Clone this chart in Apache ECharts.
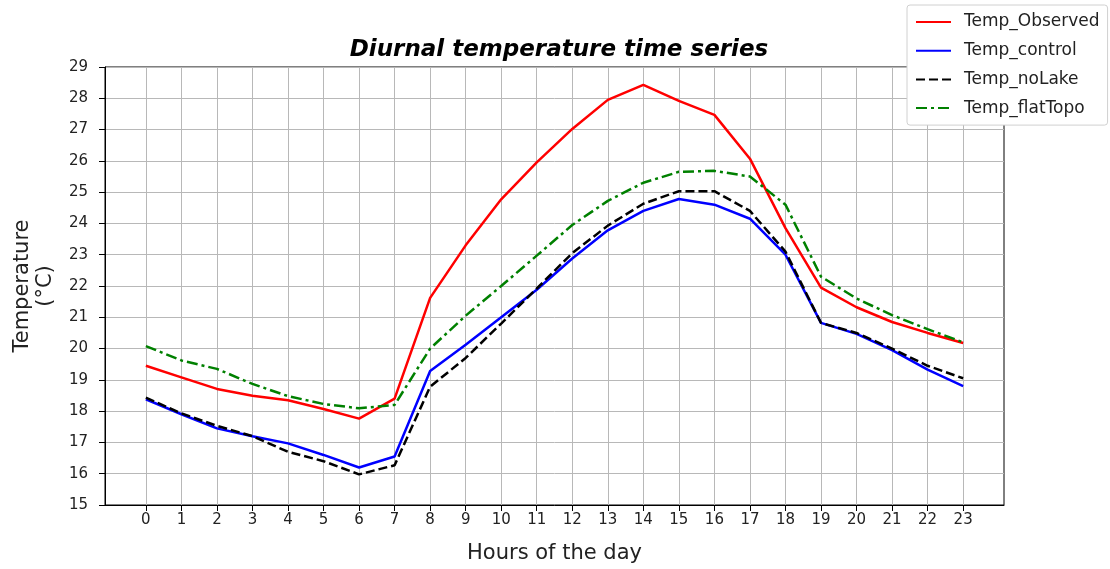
<!DOCTYPE html>
<html><head><meta charset="utf-8">
<script src="https://cdn.jsdelivr.net/npm/echarts@6/dist/echarts.min.js"></script>
<style>html,body{margin:0;padding:0;background:#fff}#c{width:1110px;height:569px}</style>
</head><body><div id="c"></div>
<script>
const hours = [0,1,2,3,4,5,6,7,8,9,10,11,12,13,14,15,16,17,18,19,20,21,22,23];
const yTicks = [15,16,17,18,19,20,21,22,23,24,25,26,27,28,29];
const tempObserved = [19.45,19.08,18.71,18.49,18.35,18.07,17.76,18.4,21.62,23.3,24.77,25.95,27.02,27.95,28.43,27.92,27.47,26.07,23.85,21.95,21.32,20.85,20.5,20.18];
const tempControl  = [18.38,17.9,17.45,17.2,16.97,16.6,16.2,16.55,19.28,20.12,21.0,21.88,22.88,23.78,24.4,24.78,24.6,24.15,23.0,20.82,20.47,19.95,19.33,18.8];
const tempNoLake   = [18.43,17.93,17.53,17.2,16.7,16.4,15.98,16.27,18.78,19.7,20.8,21.92,23.05,23.93,24.63,25.03,25.03,24.4,23.1,20.82,20.5,20.0,19.45,19.05];
const tempFlatTopo = [20.08,19.62,19.35,18.87,18.48,18.23,18.09,18.2,20.0,21.05,22.0,22.97,23.95,24.72,25.3,25.65,25.68,25.5,24.6,22.3,21.6,21.07,20.62,20.2];
const names = ['Temp_Observed','Temp_control','Temp_noLake','Temp_flatTopo'];

const pair = arr => hours.map((h,i)=>[h, arr[i]]);
const font = 'DejaVu Sans';
const chart = echarts.init(document.getElementById('c'), null, {renderer:'canvas'});
function mk(name, arr, color, type){
  return {name, type:'line', data:pair(arr), symbol:'none', showSymbol:false,
    lineStyle:{color, width:2.5, type}, itemStyle:{color}, animation:false, z:3};
}
chart.setOption({
  animation:false,
  textStyle:{fontFamily:font},
  title:{text:'Diurnal temperature time series', left:554, textAlign:'center', top:34,
    textStyle:{fontFamily:font, fontSize:23, fontWeight:'bold', fontStyle:'italic', color:'#000'}},
  grid:{left:105, right:106, top:67, bottom:64, outerBoundsMode:'none', containLabel:false,
    show:true, borderColor:'#000', borderWidth:1, backgroundColor:'transparent'},
  legend:{orient:'vertical', left:907, top:5, padding:[7,8,7,8], itemGap:8.7, itemWidth:35, itemHeight:20,
    backgroundColor:'#fff', borderColor:'#d0d0d0', borderWidth:1, borderRadius:3,
    itemStyle:{opacity:0},
    textStyle:{fontFamily:font, fontSize:17, color:'#222', padding:[0,0,0,8], lineHeight:20},
    data:names},
  xAxis:{type:'value', min:-1.15, max:24.15,
    name:'Hours of the day', nameLocation:'middle', nameGap:38,
    nameTextStyle:{fontFamily:font, fontSize:21, color:'#222'},
    axisLine:{show:true, onZero:false, lineStyle:{color:'#000', width:1}},
    axisTick:{show:true, length:6, lineStyle:{color:'#000'}, customValues:hours},
    axisLabel:{customValues:hours, fontFamily:font, fontSize:15, color:'#222', margin:8},
    splitLine:{show:true, lineStyle:{color:'#b8b8b8', width:1}}},
  yAxis:{type:'value', min:15, max:29, interval:1,
    name:'Temperature\n(°C)', nameLocation:'middle', nameGap:48, nameRotate:90,
    nameTextStyle:{fontFamily:font, fontSize:21, color:'#222', lineHeight:23},
    axisLine:{show:true, onZero:false, lineStyle:{color:'#000', width:1}},
    axisTick:{show:true, length:6, lineStyle:{color:'#000'}},
    axisLabel:{fontFamily:font, fontSize:15, color:'#222', margin:17},
    splitLine:{show:true, lineStyle:{color:'#b8b8b8', width:1}}},
  series:[
    mk(names[0], tempObserved, '#ff0000', 'solid'),
    mk(names[1], tempControl, '#0000ff', 'solid'),
    mk(names[2], tempNoLake, '#000000', [9,4]),
    mk(names[3], tempFlatTopo, '#008000', [11,4,3,4])
  ]
});
</script></body></html>
